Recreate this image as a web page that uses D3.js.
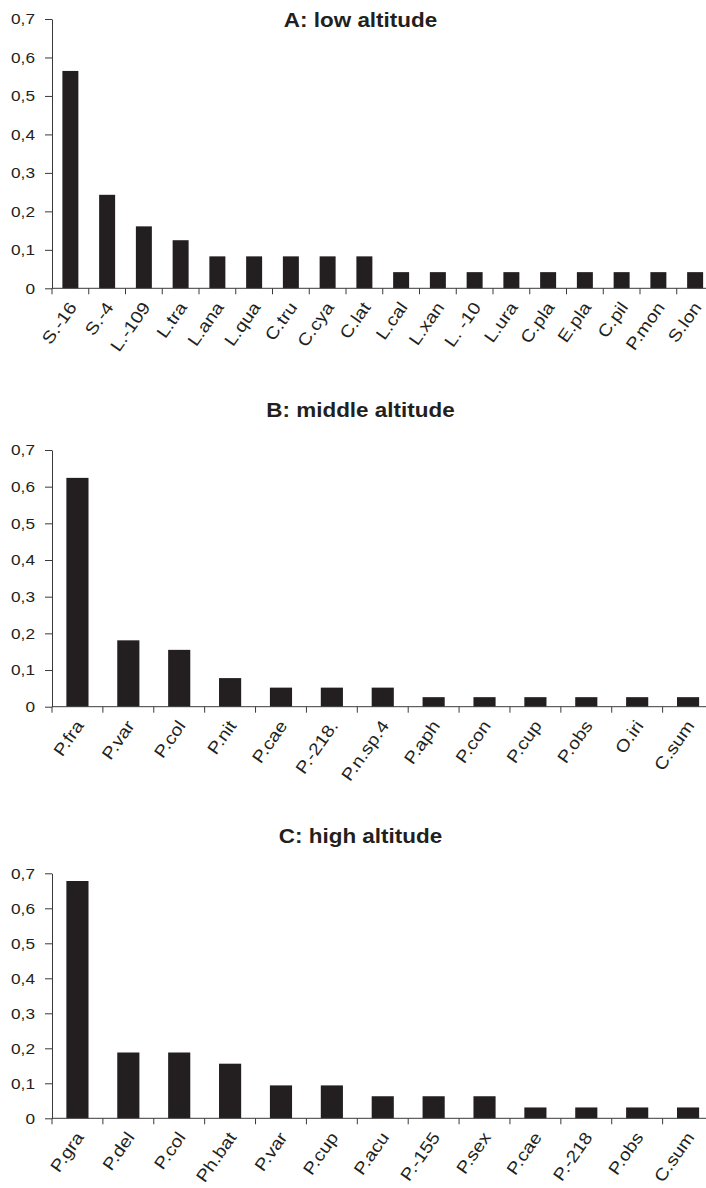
<!DOCTYPE html>
<html>
<head>
<meta charset="utf-8">
<script src="https://cdn.jsdelivr.net/npm/d3@7"></script>
<style>
  body { margin: 0; background: #fff; }
  svg { display: block; }
</style>
</head>
<body>
<div id="chart"></div>
<script>
// Data
const catsA = ["S.-16", "S.-4", "L.-109", "L.tra", "L.ana", "L.qua", "C.tru", "C.cya", "C.lat",
               "L.cal", "L.xan", "L. -10", "L.ura", "C.pla", "E.pla", "C.pil", "P.mon", "S.lon"];
const valsA = [0.565, 0.243, 0.161, 0.125, 0.083, 0.083, 0.083, 0.083, 0.083,
               0.042, 0.042, 0.042, 0.042, 0.042, 0.042, 0.042, 0.042, 0.042];

const catsB = ["P.fra", "P.var", "P.col", "P.nit", "P.cae", "P.-218.", "P.n.sp.4",
               "P.aph", "P.con", "P.cup", "P.obs", "O.iri", "C.sum"];
const valsB = [0.624, 0.181, 0.155, 0.078, 0.052, 0.052, 0.052,
               0.026, 0.026, 0.026, 0.026, 0.026, 0.026];

const catsC = ["P.gra", "P.del", "P.col", "Ph.bat", "P.var", "P.cup", "P.acu",
               "P.-155", "P.sex", "P.cae", "P.-218", "P.obs", "C.sum"];
const valsC = [0.678, 0.188, 0.188, 0.156, 0.094, 0.094, 0.063,
               0.063, 0.063, 0.031, 0.031, 0.031, 0.031];

const yTicks = [0, 0.1, 0.2, 0.3, 0.4, 0.5, 0.6, 0.7];

const config = {
  width      : 706,
  height     : 1188,
  left       : 52,
  right      : 713.5,
  titleX     : 360.5,
  barColor   : "#231f20",
  axisColor  : "#3a3a3a",
  textColor  : "#231f20",
  font       : "'Liberation Sans', Arial, Helvetica, sans-serif",
  stretch    : 1.15,
  labelAngle : -55,
};

const panels = [
  { title: "A: low altitude",    cats: catsA, vals: valsA, top: 19,    bottom: 288.3,  titleY: 26.5 },
  { title: "B: middle altitude", cats: catsB, vals: valsB, top: 450,   bottom: 706.7,  titleY: 416.7 },
  { title: "C: high altitude",   cats: catsC, vals: valsC, top: 873.3, bottom: 1118.3, titleY: 843.3 },
];

const svg = d3.select("#chart")
  .append("svg")
    .attr("width", config.width)
    .attr("height", config.height)
    .style("font-family", config.font);

panels.forEach(drawPanel);

function drawPanel(p) {
  const g = svg.append("g");

  const x = d3.scaleBand()
    .domain(p.cats)
    .range([config.left, config.right])
    .paddingInner(0.565)
    .paddingOuter(0.2825);

  const y = d3.scaleLinear()
    .domain([0, 0.7])
    .range([p.bottom, p.top]);

  // title
  g.append("text")
    .attr("transform", "translate(" + config.titleX + "," + p.titleY + ") scale(1.07,1)")
    .attr("text-anchor", "middle")
    .style("font-size", "21px")
    .style("font-weight", "bold")
    .style("fill", config.textColor)
    .text(p.title);

  // bars
  g.selectAll(".bar")
    .data(p.vals)
    .enter()
    .append("rect")
      .attr("class", "bar")
      .attr("x", function(d, i) { return x(p.cats[i]) })
      .attr("y", function(d) { return y(d) })
      .attr("width", x.bandwidth())
      .attr("height", function(d) { return y(0) - y(d) })
      .attr("fill", config.barColor);

  // y axis
  const yAxis = g.append("g")
    .attr("transform", "translate(" + config.left + ",0)")
    .call(d3.axisLeft(y)
      .tickValues(yTicks)
      .tickSize(7)
      .tickSizeOuter(0)
      .tickFormat(function(d) { return d === 0 ? "0" : d3.format(".1f")(d).replace(".", ",") }));

  yAxis.select(".domain").attr("stroke", config.axisColor);
  yAxis.selectAll(".tick line").attr("stroke", config.axisColor);
  yAxis.selectAll(".tick text")
    .attr("x", 0)
    .attr("transform", "translate(-17,0) scale(" + config.stretch + ",1)")
    .style("font-size", "15px")
    .style("fill", config.textColor);

  // x axis line
  g.append("line")
    .attr("x1", config.left)
    .attr("x2", config.right)
    .attr("y1", y(0))
    .attr("y2", y(0))
    .attr("stroke", config.axisColor);

  // x ticks at category boundaries
  const step = x.step();
  const bounds = p.cats.map(function(c) { return x(c) - (step - x.bandwidth()) / 2 });
  bounds.push(config.right);
  g.selectAll(".xtick")
    .data(bounds)
    .enter()
    .append("line")
      .attr("class", "xtick")
      .attr("x1", function(d) { return d })
      .attr("x2", function(d) { return d })
      .attr("y1", y(0))
      .attr("y2", y(0) + 6)
      .attr("stroke", config.axisColor);

  // rotated category labels
  g.selectAll(".xlabel")
    .data(p.cats)
    .enter()
    .append("text")
      .attr("class", "xlabel")
      .attr("text-anchor", "end")
      .attr("transform", function(d) {
        const cx = x(d) + x.bandwidth() / 2 + 7;
        return "translate(" + cx + "," + (y(0) + 19) + ") rotate(" + config.labelAngle + ") scale(" + config.stretch + ",1)";
      })
      .style("font-size", "17px")
      .style("fill", config.textColor)
      .text(function(d) { return d });
}
</script>
</body>
</html>
